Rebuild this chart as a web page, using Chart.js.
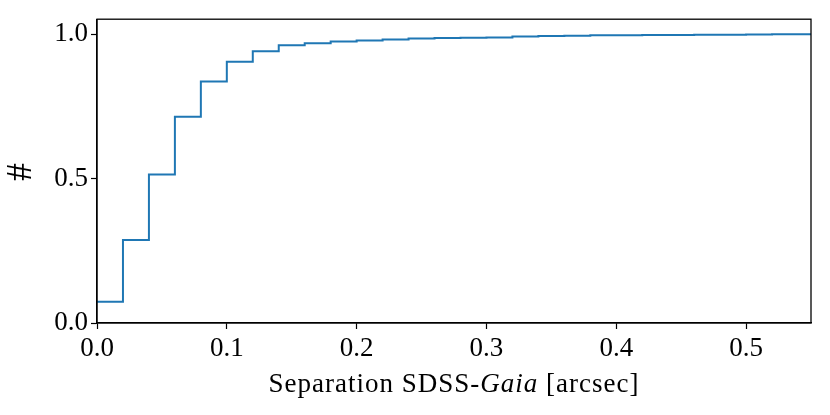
<!DOCTYPE html>
<html>
<head>
<meta charset="utf-8">
<script src="https://cdn.jsdelivr.net/npm/chart.js@4"></script>
<style>
  html, body { margin: 0; padding: 0; background: #fff; }
  #wrap { width: 830px; height: 415px; }
</style>
</head>
<body>
<div id="wrap"><canvas id="chartSep"></canvas></div>
<script>
// bin edges (arcsec) and cumulative fraction per bin
const binEdges = [0.00, 0.02, 0.04, 0.06, 0.08, 0.10, 0.12, 0.14, 0.16, 0.18,
                  0.20, 0.22, 0.24, 0.26, 0.28, 0.30, 0.32, 0.34, 0.36, 0.38,
                  0.40, 0.42, 0.44, 0.46, 0.48, 0.50, 0.52, 0.54, 0.56];
const cumFrac = [0.074, 0.287, 0.514, 0.714, 0.836, 0.905, 0.941, 0.962, 0.969, 0.975,
                 0.978, 0.982, 0.985, 0.987, 0.988, 0.989, 0.992, 0.994, 0.995, 0.996,
                 0.996, 0.997, 0.997, 0.998, 0.998, 0.999, 1.000, 1.000];
const xTicks = [0.0, 0.1, 0.2, 0.3, 0.4, 0.5];
const yTicks = [0.0, 0.5, 1.0];

const points = binEdges.map((x, i) => ({ x: x, y: cumFrac[Math.min(i, cumFrac.length - 1)] }));

const serif = '"Liberation Serif", "DejaVu Serif", serif';

// frame + axis titles (x title has italic "Gaia")
const framePlugin = {
  id: 'frame',
  afterDraw(chart) {
    const { ctx, chartArea: a } = chart;
    ctx.save();
    ctx.strokeStyle = '#000';
    ctx.lineWidth = 1.3;
    ctx.strokeRect(a.left, a.top, a.right - a.left, a.bottom - a.top);

    ctx.fillStyle = '#000';
    ctx.textBaseline = 'alphabetic';
    ctx.letterSpacing = '1px';
    const parts = [
      ['Separation SDSS-', 'normal 27px ' + serif],
      ['Gaia', 'italic 27px ' + serif],
      [' [arcsec]', 'normal 27px ' + serif]
    ];
    let total = 0;
    parts.forEach(p => { ctx.font = p[1]; total += ctx.measureText(p[0]).width; });
    let x = (a.left + a.right) / 2 - total / 2;
    parts.forEach(p => {
      ctx.font = p[1];
      ctx.fillText(p[0], x, 392);
      x += ctx.measureText(p[0]).width;
    });

    ctx.letterSpacing = '0px';
    ctx.translate(22, (a.top + a.bottom) / 2 + 1);
    ctx.rotate(-Math.PI / 2);
    ctx.textAlign = 'center';
    ctx.textBaseline = 'middle';
    ctx.font = 'normal 36px ' + serif;
    ctx.fillText('#', 0, 0);
    ctx.restore();
  }
};

new Chart(document.getElementById('chartSep'), {
  type: 'line',
  data: {
    datasets: [{
      data: points,
      stepped: 'before',
      borderColor: '#1f77b4',
      borderWidth: 2,
      pointRadius: 0,
      fill: false
    }]
  },
  options: {
    responsive: true,
    maintainAspectRatio: false,
    animation: false,
    layout: { padding: { left: 0, right: 19, top: 18, bottom: 0 } },
    plugins: { legend: { display: false }, tooltip: { enabled: false } },
    scales: {
      x: {
        type: 'linear',
        min: 0,
        max: 0.55,
        afterBuildTicks: s => { s.ticks = xTicks.map(v => ({ value: v })); },
        afterFit: s => { s.height = 92; },
        grid: { display: true, drawOnChartArea: false, drawTicks: true, tickLength: 6, tickColor: '#000', tickWidth: 1.2 },
        border: { display: true, color: '#000', width: 1.3 },
        ticks: {
          color: '#000',
          padding: 4,
          maxRotation: 0,
          font: { family: serif, size: 27 },
          callback: v => v.toFixed(1)
        }
      },
      y: {
        min: 0,
        max: 1.052,
        afterBuildTicks: s => { s.ticks = yTicks.map(v => ({ value: v })); },
        afterFit: s => { s.width = 97; },
        grid: { display: true, drawOnChartArea: false, drawTicks: true, tickLength: 6, tickColor: '#000', tickWidth: 1.2 },
        border: { display: true, color: '#000', width: 1.3 },
        ticks: {
          color: '#000',
          padding: 3,
          font: { family: serif, size: 27 },
          callback: v => v.toFixed(1)
        }
      }
    }
  },
  plugins: [framePlugin]
});
</script>
</body>
</html>
